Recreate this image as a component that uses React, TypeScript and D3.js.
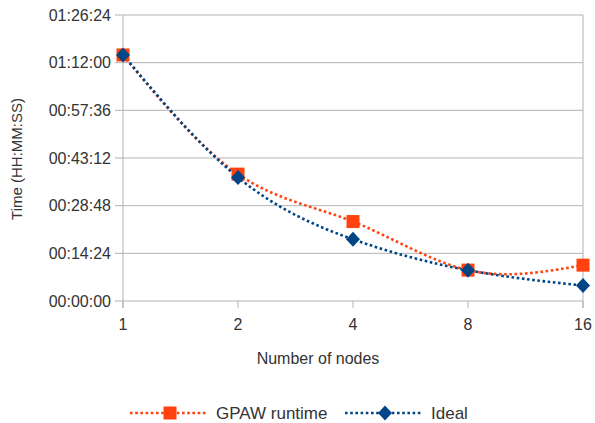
import * as d3 from "d3";
import { useEffect, useRef } from "react";

// nodes on the x axis (categorical, evenly spaced)
const nodes = ["1", "2", "4", "8", "16"];
// runtimes in seconds
const gpawRuntime = [4460, 2300, 1440, 560, 650];
const idealRuntime = [4460, 2240, 1118, 558, 280];
// y ticks every 14:24 (864 s)
const yTicks = [0, 864, 1728, 2592, 3456, 4320, 5184];

const ORANGE = "#ff420e";
const BLUE = "#004586";
const GRID = "#b3b3b3";
const TEXT = "#333333";
const FONT = "'Liberation Sans', Arial, sans-serif";

function fmt(s: number) {
  const h = Math.floor(s / 3600);
  const m = Math.floor((s % 3600) / 60);
  const sec = s % 60;
  const p = (n: number) => String(n).padStart(2, "0");
  return `${p(h)}:${p(m)}:${p(sec)}`;
}

export default function App() {
  const ref = useRef<SVGSVGElement>(null);
  const width = 595,
    height = 423;

  useEffect(() => {
    const svg = d3.select(ref.current);
    svg.selectAll("*").remove();

    const left = 123,
      right = 583,
      top = 15,
      bottom = 301;

    const x = d3.scalePoint<string>().domain(nodes).range([left, right]).padding(0);
    const y = d3.scaleLinear().domain([0, 5184]).range([bottom, top]);

    // horizontal grid
    svg
      .selectAll("line.grid")
      .data(yTicks)
      .join("line")
      .attr("x1", left - 8)
      .attr("x2", right)
      .attr("y1", (d) => y(d))
      .attr("y2", (d) => y(d))
      .attr("stroke", GRID)
      .attr("stroke-width", 1);

    // vertical axis lines at left and right edge
    [left, right].forEach((xx) => {
      svg
        .append("line")
        .attr("x1", xx)
        .attr("x2", xx)
        .attr("y1", top)
        .attr("y2", bottom + 7)
        .attr("stroke", GRID)
        .attr("stroke-width", 1);
    });

    // x tick marks
    svg
      .selectAll("line.xtick")
      .data(nodes)
      .join("line")
      .attr("x1", (d) => x(d)!)
      .attr("x2", (d) => x(d)!)
      .attr("y1", bottom)
      .attr("y2", bottom + 7)
      .attr("stroke", GRID);

    // y tick labels
    svg
      .selectAll("text.ylab")
      .data(yTicks)
      .join("text")
      .attr("x", 111)
      .attr("y", (d) => y(d))
      .attr("dy", "0.35em")
      .attr("text-anchor", "end")
      .style("font-family", FONT)
      .style("font-size", "16px")
      .attr("fill", TEXT)
      .text((d) => fmt(d));

    // x tick labels
    svg
      .selectAll("text.xlab")
      .data(nodes)
      .join("text")
      .attr("x", (d) => x(d)!)
      .attr("y", 330)
      .attr("text-anchor", "middle")
      .style("font-family", FONT)
      .style("font-size", "16px")
      .attr("fill", TEXT)
      .text((d) => d);

    // axis titles
    svg
      .append("text")
      .attr("x", 318)
      .attr("y", 364)
      .attr("text-anchor", "middle")
      .style("font-family", FONT)
      .style("font-size", "16px")
      .attr("fill", TEXT)
      .text("Number of nodes");

    svg
      .append("text")
      .attr("transform", `translate(22, 159) rotate(-90)`)
      .attr("text-anchor", "middle")
      .style("font-family", FONT)
      .style("font-size", "15px")
      .attr("fill", TEXT)
      .text("Time (HH:MM:SS)");

    const line = d3
      .line<number>()
      .x((_d, i) => x(nodes[i])!)
      .y((d) => y(d))
      .curve(d3.curveNatural);

    const series = [
      { values: gpawRuntime, color: ORANGE, marker: "square" },
      { values: idealRuntime, color: BLUE, marker: "diamond" },
    ];

    const drawMarker = (g: any, kind: string, cx: number, cy: number, color: string) => {
      if (kind === "square") {
        g.append("rect")
          .attr("x", cx - 6.5)
          .attr("y", cy - 6.5)
          .attr("width", 13)
          .attr("height", 13)
          .attr("fill", color);
      } else {
        g.append("path")
          .attr("d", `M${cx},${cy - 7.5}L${cx + 7},${cy}L${cx},${cy + 7.5}L${cx - 7},${cy}Z`)
          .attr("fill", color);
      }
    };

    series.forEach((s) => {
      svg
        .append("path")
        .attr("d", line(s.values))
        .attr("fill", "none")
        .attr("stroke", s.color)
        .attr("stroke-width", 2.6)
        .attr("stroke-dasharray", "2.6 2.6");
    });

    series.forEach((s) => {
      const g = svg.append("g");
      s.values.forEach((v, i) => drawMarker(g, s.marker, x(nodes[i])!, y(v), s.color));
    });

    // legend
    const legend = [
      { label: "GPAW runtime", color: ORANGE, marker: "square", x0: 130 },
      { label: "Ideal", color: BLUE, marker: "diamond", x0: 345 },
    ];
    const ly = 413;
    legend.forEach((l) => {
      svg
        .append("line")
        .attr("x1", l.x0)
        .attr("x2", l.x0 + 78)
        .attr("y1", ly)
        .attr("y2", ly)
        .attr("stroke", l.color)
        .attr("stroke-width", 2.6)
        .attr("stroke-dasharray", "2.6 2.6");
      const g = svg.append("g");
      drawMarker(g, l.marker, l.x0 + 40, ly, l.color);
      svg
        .append("text")
        .attr("x", l.x0 + 86)
        .attr("y", ly)
        .attr("dy", "0.35em")
        .style("font-family", FONT)
        .style("font-size", "17px")
        .attr("fill", TEXT)
        .text(l.label);
    });
  }, []);

  return (
    <div style={{ position: "absolute", left: 0, top: 0 }}>
      <svg ref={ref} width={width} height={height} style={{ display: "block", background: "#fff" }} />
    </div>
  );
}
